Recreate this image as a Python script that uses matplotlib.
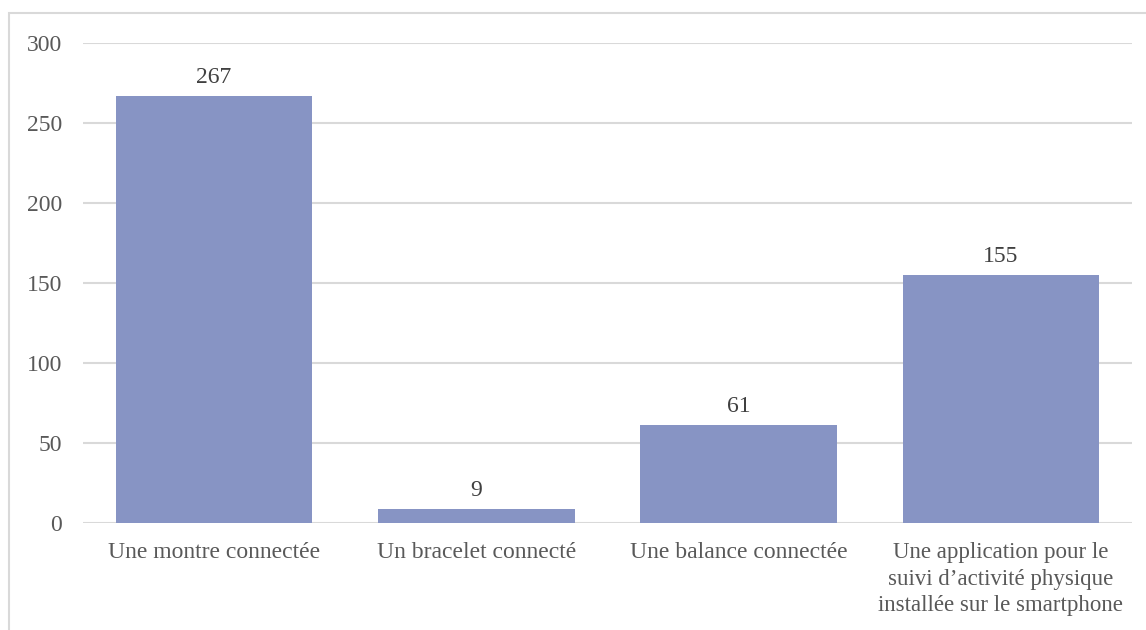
import matplotlib.pyplot as plt
from matplotlib.patches import Rectangle

# données
categories = ['Une montre connectée', 'Un bracelet connecté', 'Une balance connectée',
              'Une application pour le\nsuivi d\u2019activité physique\ninstallée sur le smartphone']
values = [267, 9, 61, 155]
yticks = [0, 50, 100, 150, 200, 250, 300]

plt.rcParams['font.family'] = ['Liberation Serif', 'DejaVu Serif']

fig = plt.figure(figsize=(11.46, 6.3), dpi=100)
ax = fig.add_axes([0.0724, 0.1698, 0.9154, 0.7619])

# cadre gris autour du graphique
fig.patches.append(Rectangle((9 / 1146, -0.1), 1.2, 1 - 13 / 630 + 0.1,
                             transform=fig.transFigure, fill=False,
                             edgecolor='#D9D9D9', linewidth=1.5))

x = range(len(categories))
ax.bar(x, values, width=0.75, color='#8794C4', zorder=3)

for i, v in zip(x, values):
    ax.text(i, v + 5, str(v), ha='center', va='bottom', fontsize=17, color='#404040')

ax.set_ylim(0, 300)
ax.set_xlim(-0.5, len(categories) - 0.5)
ax.set_yticks(yticks)
ax.set_xticks(list(x))
labels = ax.set_xticklabels(categories, fontsize=17, color='#595959', linespacing=1.33)
labels[-1].set_fontsize(16.5)
ax.tick_params(axis='y', labelsize=17, labelcolor='#595959', length=0, pad=15)
ax.tick_params(axis='x', length=0, pad=14)
ax.grid(axis='y', color='#D9D9D9', linewidth=1.5, zorder=0)
for s in ax.spines.values():
    s.set_visible(False)

fig.savefig('out.png', dpi=100)
